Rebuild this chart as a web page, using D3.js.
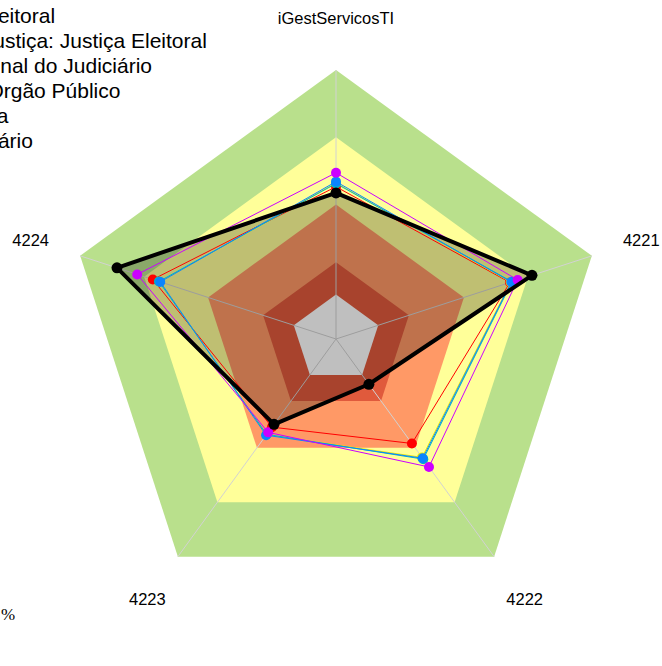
<!DOCTYPE html>
<html>
<head>
<meta charset="utf-8">
<script src="https://cdn.jsdelivr.net/npm/d3@7"></script>
<style>
  html, body { margin: 0; padding: 0; background: #ffffff; overflow: hidden; }
  svg { display: block; }
</style>
</head>
<body>
<svg id="chart" width="662" height="666"></svg>
<script>
// Radar axes (clockwise from the top)
const axes = ["iGestServicosTI", "4221", "4222", "4223", "4224"];

// Background rating bands, outer to inner (percent)
const bandLevels = [100, 75, 50, 28.5, 16.5];
const bandColors = ["#b9e08c", "#ffff99", "#ff9966", "#e05a3c", "#ffffff"];

// Series shown in the legend
const seriesNames = [
  "Área: Justiça Eleitoral",
  "Segmento de Justiça: Justiça Eleitoral",
  "Conselho Nacional do Judiciário",
  "Classificação: Órgão Público",
  "Ramo da Justiça",
  "Média do Judiciário"
];
const seriesColors = ["#000000", "#ff0000", "#e8e800", "#00b8c0", "#0a84ff", "#cc00ff"];

// Values per axis, in percent
const valuesOrg       = [54.3, 76.6, 20.8, 39.2, 85.6];
const valuesRed       = [56.6, 68.0, 48.0, 40.5, 71.6];
const valuesYellow    = [58.0, 68.3, 54.4, 44.0, 68.9];
const valuesCyan      = [57.8, 68.8, 55.2, 43.8, 69.2];
const valuesBlue      = [58.5, 68.5, 54.8, 44.2, 68.7];
const valuesMagenta   = [61.8, 71.0, 58.8, 42.9, 77.7];
const seriesValues = [valuesOrg, valuesRed, valuesYellow, valuesCyan, valuesBlue, valuesMagenta];

const unitLabel = "%";

// Layout
const width = 662, height = 666;
const cx = 336, cy = 339, outerR = 269;
const labelR = 321;

const svg = d3.select("#chart");
const r = d3.scaleLinear().domain([0, 100]).range([0, outerR]);
const step = 2 * Math.PI / axes.length;
const angle = i => i * step;

const g = svg.append("g").attr("transform", `translate(${cx},${cy})`);

const ring = d3.lineRadial()
  .angle((d, i) => angle(i))
  .radius(d => r(d))
  .curve(d3.curveLinearClosed);

// Bands
bandLevels.forEach((lvl, k) => {
  g.append("path")
    .attr("d", ring(axes.map(() => lvl)))
    .attr("fill", bandColors[k])
    .attr("stroke", "none");
});

// Spokes
g.selectAll("line.spoke")
  .data(axes)
  .join("line")
  .attr("class", "spoke")
  .attr("x1", 0).attr("y1", 0)
  .attr("x2", (d, i) => r(100) * Math.sin(angle(i)))
  .attr("y2", (d, i) => -r(100) * Math.cos(angle(i)))
  .attr("stroke", "#d2d2d2")
  .attr("stroke-width", 1);

// Shaded area of the organisation's own profile
g.append("path")
  .attr("d", ring(valuesOrg))
  .attr("fill", "rgba(0,0,0,0.25)")
  .attr("stroke", "none");

// Comparison series, then the organisation on top
const order = [1, 2, 3, 4, 5, 0];
order.forEach(s => {
  const vals = seriesValues[s];
  const isOrg = s === 0;
  g.append("path")
    .attr("d", ring(vals))
    .attr("fill", "none")
    .attr("stroke", seriesColors[s])
    .attr("stroke-width", isOrg ? 4 : 1)
    .attr("stroke-linejoin", "round");
  g.selectAll(null)
    .data(vals)
    .join("circle")
    .attr("cx", (d, i) => r(d) * Math.sin(angle(i)))
    .attr("cy", (d, i) => -r(d) * Math.cos(angle(i)))
    .attr("r", isOrg ? 5.5 : 5)
    .attr("fill", seriesColors[s]);
});

// Axis labels
svg.selectAll("text.axis")
  .data(axes)
  .join("text")
  .attr("class", "axis")
  .attr("x", (d, i) => cx + labelR * Math.sin(angle(i)))
  .attr("y", (d, i) => cy - labelR * Math.cos(angle(i)))
  .attr("text-anchor", "middle")
  .attr("dominant-baseline", "central")
  .attr("font-family", "'Liberation Sans', Arial, sans-serif")
  .attr("font-size", 16.5)
  .attr("fill", "#000")
  .text(d => d);

// Legend
const legendX = -148, legendY = 23, legendStep = 25;
const legend = svg.append("g");
seriesNames.forEach((name, k) => {
  const y = legendY + k * legendStep;
  legend.append("line")
    .attr("x1", legendX - 40).attr("x2", legendX - 10)
    .attr("y1", y - 7).attr("y2", y - 7)
    .attr("stroke", seriesColors[k]).attr("stroke-width", k === 0 ? 4 : 1);
  legend.append("text")
    .attr("x", legendX)
    .attr("y", y)
    .attr("font-family", "'Liberation Sans', Arial, sans-serif")
    .attr("font-size", 21)
    .attr("fill", "#000")
    .text(name);
});

// Unit note
svg.append("text")
  .attr("x", 1)
  .attr("y", 620)
  .attr("font-family", "'Liberation Serif', 'Times New Roman', serif")
  .attr("font-size", 17)
  .attr("fill", "#000")
  .text(unitLabel);
</script>
</body>
</html>
